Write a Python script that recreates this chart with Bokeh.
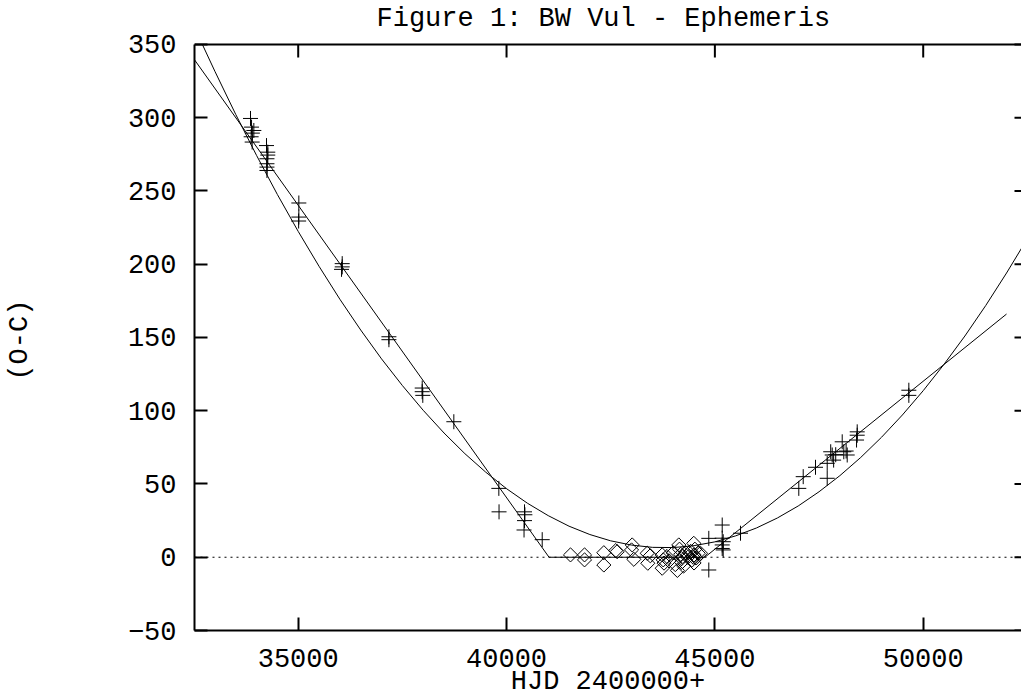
import numpy as np
from bokeh.plotting import figure
from bokeh.models import Range1d, FixedTicker, Span
from bokeh.embed import file_html
from bokeh.resources import INLINE

# ---- data ----
# visual (+) timings: HJD-2400000, O-C
vis_x = [33855, 33880, 33935, 33900, 33895, 33870,
         34239, 34270, 34270, 34250, 34250, 34250, 34250,
         35015, 35015, 35010,
         36056, 36056, 36040,
         37177, 37177,
         37976, 37976, 37990,
         38735,
         39815, 39820,
         40431, 40440, 40431, 40420,
         40856,
         44854, 44854,
         45176, 45176, 45200, 45176, 45200, 45176,
         45615,
         47014, 47120, 47415, 47696, 47696, 47816, 47850, 47780, 47900,
         48056, 48094, 48176, 48150,
         48416, 48416, 48400,
         49655, 49655]
vis_y = [299.5, 293.6, 291.3, 289.5, 283.4, 287.0,
         281.0, 276.5, 274.5, 272.0, 268.6, 266.3, 264.0,
         241.8, 232.2, 229.5,
         200.4, 198.2, 196.5,
         150.5, 148.5,
         115.5, 113.0, 110.5,
         92.5,
         47.0, 31.0,
         31.0, 29.0, 25.0, 18.6,
         12.0,
         12.9, -8.7,
         22.0, 13.0, 10.6, 8.4, 5.0, 6.0,
         16.4,
         47.0, 55.0, 61.4, 53.9, 64.1, 69.8, 66.3, 72.0, 70.0,
         78.8, 72.0, 69.8, 72.5,
         85.6, 83.3, 80.0,
         114.0, 110.5]

# photoelectric (diamond) timings
pe_x = [41535, 41872, 41872, 42335, 42335, 42620, 42655, 43016, 43000, 43055,
        43376, 43390, 43450, 43736, 43760, 43736, 43780, 43850, 43900, 44000,
        44050, 44100, 44134, 44150, 44180, 44200, 44200, 44230, 44250, 44300,
        44350, 44420, 44450, 44480, 44494, 44500, 44500, 44520, 44550, 44600,
        44655]
pe_y = [1.6, 1.6, -1.8, 3.1, -5.3, 4.5, 3.8, 8.4, 5.0, -1.4,
        2.7, -4.1, 1.0, 1.6, -1.8, -7.5, -4.0, 0.5, -2.5, 3.0,
        -5.0, -9.0, 8.4, 5.5, 2.0, -1.0, -3.5, 0.5, -6.0, 3.0,
        0.0, 4.0, -2.0, 0.0, 9.5, 1.6, -3.9, 5.5, -0.5, 2.7,
        2.7]

# quadratic ephemeris curve (from where it leaves the top)
quad_x = [32700, 33000, 33500, 34000, 34500, 35000, 35500, 36000, 36500, 37000,
          37500, 38000, 38500, 39000, 39500, 40000, 40500, 41000, 41500, 42000,
          42500, 43000, 43500, 44000, 44500, 45000, 45500, 46000, 46500, 47000,
          47500, 48000, 48500, 49000, 49500, 50000, 50500, 51000, 51500, 52000,
          52500]
quad_y = [350.0, 331.7, 302.3, 274.3, 247.6, 222.4, 198.6, 176.1, 155.1, 135.4,
          117.2, 100.3, 84.8, 70.7, 58.1, 46.8, 36.9, 28.4, 21.2, 15.5,
          11.2, 8.3, 6.75, 6.6, 7.9, 10.5, 14.6, 20.0, 26.8, 35.0,
          44.7, 55.7, 68.1, 81.9, 97.1, 113.7, 131.7, 151.0, 171.8, 194.0,
          217.5]

# piecewise linear ephemeris
lin_x = [32500, 41020, 44760, 52000]
lin_y = [340.0, 0.0, 0.0, 166.0]

x_ticks = [35000, 40000, 45000, 50000]
y_ticks = [-50, 0, 50, 100, 150, 200, 250, 300, 350]

# ---- figure ----
W, H = 1021, 699
X0, X1 = 32511, 52359
Y0, Y1 = -50, 350          # plotted box
PX_PER_Y = 587.0 / (Y1 - Y0)
TOP_PAD = 11               # px of blank frame above the box (room for the title)
Y_TOP = Y1 + TOP_PAD / PX_PER_Y
TICK = 13                  # inward tick length in px

p = figure(width=W, height=H, output_backend="svg", toolbar_location=None,
           x_range=Range1d(X0, X1), y_range=Range1d(Y0, Y_TOP),
           min_border_left=194, min_border_right=0,
           min_border_top=44 - TOP_PAD, min_border_bottom=68,
           background_fill_color="white", border_fill_color="white")
p.outline_line_color = None
p.grid.visible = False

FONT = "Liberation Mono"
FS = "27px"

bottom_axis = p.below[0]
left_axis = p.left[0]

bottom_axis.ticker = FixedTicker(ticks=x_ticks)
left_axis.ticker = FixedTicker(ticks=y_ticks)
left_axis.bounds = (Y0, Y1)

for ax in [bottom_axis, left_axis]:
    ax.major_tick_in = TICK
    ax.major_tick_out = 0
    ax.minor_tick_in = 0
    ax.minor_tick_out = 0
    ax.axis_line_width = 2
    ax.axis_line_color = "black"
    ax.major_tick_line_width = 2
    ax.major_tick_line_color = "black"
    ax.major_label_text_font = FONT
    ax.major_label_text_font_size = FS
    ax.major_label_text_color = "black"
    ax.axis_label_text_font = FONT
    ax.axis_label_text_font_size = FS
    ax.axis_label_text_font_style = "normal"
    ax.axis_label_text_color = "black"

left_axis.major_label_standoff = 18
left_axis.axis_label = "(O-C) "
left_axis.axis_label_standoff = 90

bottom_axis.major_label_standoff = 18
bottom_axis.axis_label = "HJD 2400000+"
bottom_axis.axis_label_standoff = -3

p.title.text = "Figure 1: BW Vul - Ephemeris"
p.title.text_font = FONT
p.title.text_font_size = FS
p.title.text_font_style = "normal"
p.title.text_color = "black"
p.title.align = "left"
p.title.offset = 182
p.title.standoff = 0

# top border of the box, inward ticks on top and right
p.add_layout(Span(location=Y1, dimension="width", line_color="black",
                  line_width=2))
p.segment(x0=x_ticks, y0=[Y1] * len(x_ticks), x1=x_ticks,
          y1=[Y1 - TICK / PX_PER_Y] * len(x_ticks),
          line_width=2, line_color="black")
p.ray(x=[X1] * len(y_ticks), y=y_ticks, length=7, length_units="screen",
      angle=np.pi, line_width=2, line_color="black")

# zero line
p.add_layout(Span(location=0, dimension="width", line_color="black",
                  line_width=1, line_dash="2 4"))

# curves
p.line(quad_x, quad_y, line_color="black", line_width=1)
p.line(lin_x, lin_y, line_color="black", line_width=1)

# points
p.scatter(vis_x, vis_y, marker="cross", size=15, line_color="black",
          line_width=1)
p.scatter(pe_x, pe_y, marker="square", angle=np.pi / 4, size=10,
          fill_color=None, line_color="black", line_width=1)

open("out.html", "w").write(file_html(p, INLINE))
